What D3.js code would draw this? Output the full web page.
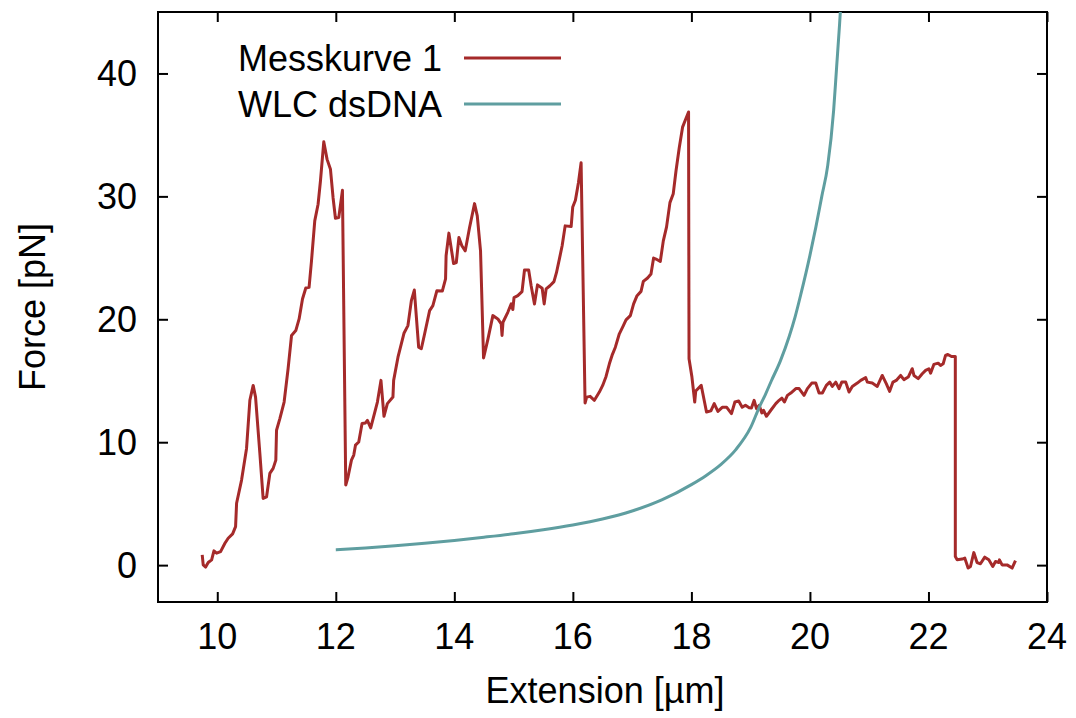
<!DOCTYPE html>
<html>
<head>
<meta charset="utf-8">
<script src="https://cdn.jsdelivr.net/npm/d3@7"></script>
<style>
  html, body { margin: 0; padding: 0; background: #fff; }
  svg text { font-family: "Liberation Sans", Arial, Helvetica, sans-serif; fill: #000; }
</style>
</head>
<body>
<svg id="chart" width="1076" height="718"></svg>
<script>
// Measured force-extension trace (extension in µm, force in pN)
const messExt = [9.746,9.763,9.804,9.847,9.905,9.944,9.989,10.056,10.129,10.184,10.259,10.309,10.326,10.410,10.494,10.550,10.606,10.646,10.719,10.774,10.832,10.887,10.943,10.988,11.000,11.056,11.128,11.195,11.253,11.325,11.381,11.438,11.494,11.549,11.590,11.645,11.701,11.741,11.797,11.853,11.910,11.954,11.994,12.050,12.112,12.168,12.207,12.264,12.303,12.332,12.387,12.443,12.500,12.533,12.589,12.644,12.702,12.762,12.813,12.870,12.964,12.976,13.049,13.150,13.217,13.275,13.325,13.398,13.443,13.499,13.583,13.638,13.706,13.797,13.852,13.861,13.908,13.987,14.033,14.077,14.127,14.184,14.257,14.341,14.387,14.442,14.493,14.565,14.650,14.734,14.791,14.805,14.821,14.902,14.960,14.987,15.007,15.071,15.142,15.184,15.254,15.296,15.352,15.403,15.482,15.516,15.549,15.613,15.681,15.723,15.773,15.819,15.870,15.971,15.998,16.043,16.094,16.139,16.206,16.233,16.291,16.363,16.447,16.503,16.560,16.616,16.661,16.717,16.784,16.852,16.897,16.970,17.025,17.083,17.150,17.189,17.261,17.318,17.362,17.403,17.475,17.526,17.581,17.638,17.694,17.740,17.795,17.851,17.908,17.952,17.960,18.009,18.056,18.073,18.166,18.255,18.329,18.385,18.447,18.520,18.596,18.676,18.734,18.798,18.857,18.912,18.975,19.013,19.059,19.098,19.143,19.189,19.216,19.266,19.340,19.424,19.480,19.526,19.569,19.620,19.677,19.762,19.817,19.901,19.957,20.031,20.098,20.154,20.210,20.277,20.334,20.378,20.436,20.491,20.537,20.604,20.660,20.715,20.799,20.857,20.941,20.968,21.052,21.136,21.220,21.288,21.345,21.401,21.456,21.530,21.586,21.659,21.726,21.755,21.827,21.895,21.952,22.007,22.036,22.091,22.164,22.204,22.248,22.288,22.327,22.389,22.453,22.453,22.484,22.568,22.613,22.669,22.709,22.765,22.820,22.877,22.950,23.018,23.085,23.131,23.187,23.198,23.242,23.326,23.411,23.468];
const messForce = [0.84,0.02,-0.16,0.21,0.43,1.16,0.97,1.10,1.78,2.19,2.54,3.13,5.03,6.92,9.49,13.41,14.62,13.67,9.08,5.43,5.56,7.46,7.87,8.54,10.97,11.92,13.27,15.98,18.68,19.08,20.03,21.65,22.55,22.60,24.76,28.01,29.36,31.25,34.44,33.01,32.20,29.89,28.22,28.27,30.49,6.51,7.19,8.54,8.95,9.76,10.02,11.52,11.57,11.78,11.16,12.19,13.27,15.03,12.11,13.14,13.67,15.03,16.92,18.86,19.49,21.52,22.38,17.73,17.60,18.82,20.71,21.11,22.33,22.30,23.28,25.17,27.01,24.54,24.62,26.65,25.98,25.57,27.46,29.41,28.41,25.57,16.85,18.35,20.30,20.03,19.63,18.68,19.76,20.57,21.25,20.79,21.76,21.92,22.25,24.01,24.01,22.73,21.25,22.80,22.53,21.25,22.47,22.73,23.06,23.79,24.92,25.98,27.60,27.54,29.14,29.68,31.11,32.73,13.19,13.67,13.73,13.41,14.08,14.62,15.35,16.38,17.06,17.73,18.82,19.49,19.95,20.30,21.25,21.92,22.27,23.08,23.36,23.68,24.98,24.90,24.70,26.38,27.52,29.49,30.22,32.06,33.95,35.63,36.33,36.87,16.79,15.30,13.27,14.16,14.62,12.46,12.55,13.14,12.51,12.84,12.84,12.33,13.27,13.35,12.84,13.00,12.80,12.78,13.41,12.73,13.00,12.38,12.60,12.11,12.60,13.14,13.41,13.59,13.27,13.81,14.00,14.36,14.36,13.81,14.36,14.81,14.81,14.00,14.00,14.62,14.89,14.54,14.89,14.36,14.89,14.89,14.08,14.54,14.81,15.03,15.25,14.89,14.81,14.54,15.43,14.76,14.14,14.89,15.03,15.43,15.09,15.30,15.98,15.43,15.17,15.57,15.84,15.98,15.62,16.33,16.43,16.24,16.38,17.06,17.14,16.97,16.97,0.70,0.43,0.49,0.57,-0.24,-0.11,1.02,0.21,0.11,0.65,0.43,-0.11,0.29,0.21,0.43,0.02,0.02,-0.24,0.37];

// Worm-like-chain curve for dsDNA
const wlcExt = [12.0,12.5,13.0,13.5,14.0,14.5,15.0,15.5,16.0,16.5,17.0,17.5,18.0,18.25,18.5,18.75,19.0,19.15,19.25,19.35,19.5,19.65,19.75,19.85,20.0,20.1,20.2,20.3,20.4,20.45,20.5,20.55];
const wlcForce = [1.24,1.40,1.58,1.78,2.01,2.27,2.55,2.88,3.27,3.75,4.40,5.30,6.55,7.3,8.2,9.4,11.2,12.9,13.9,15.0,16.6,18.6,20.2,22.1,25.2,27.5,30.0,32.5,37.0,40.5,44.0,48.0];

const xTicks = [10, 12, 14, 16, 18, 20, 22, 24];
const yTicks = [0, 10, 20, 30, 40];
const seriesNames = ["Messkurve 1", "WLC dsDNA"];
const seriesColors = ["#a52a2a", "#5f9ea0"];

const svg = d3.select("#chart");
const plot = { left: 158, top: 12, right: 1047, bottom: 602 };

const x = d3.scaleLinear().domain([9, 24]).range([plot.left, plot.right]);
const y = d3.scaleLinear().domain([-3, 45]).range([plot.bottom, plot.top]);

svg.append("defs").append("clipPath").attr("id", "plotClip")
  .append("rect")
  .attr("x", plot.left).attr("y", plot.top)
  .attr("width", plot.right - plot.left).attr("height", plot.bottom - plot.top);

const fontSize = 36;
const tickLen = 10;

// Axes with inward ticks on all four sides
const axes = [
  { axis: d3.axisBottom(x).tickValues(xTicks), t: `translate(0,${plot.bottom})` },
  { axis: d3.axisTop(x).tickValues(xTicks), t: `translate(0,${plot.top})` },
  { axis: d3.axisLeft(y).tickValues(yTicks), t: `translate(${plot.left},0)` },
  { axis: d3.axisRight(y).tickValues(yTicks), t: `translate(${plot.right},0)` }
];
axes.forEach(a => {
  const g = svg.append("g").attr("transform", a.t)
    .call(a.axis.tickSizeInner(-tickLen).tickSizeOuter(0).tickPadding(0));
  g.select(".domain").remove();
  g.selectAll(".tick line").attr("stroke", "#000").attr("stroke-width", 2);
  g.selectAll(".tick text").remove();
});

// tick labels
svg.selectAll(".xlab").data(xTicks).enter().append("text")
  .attr("x", d => x(d)).attr("y", plot.bottom + 47)
  .attr("text-anchor", "middle").attr("font-size", fontSize).text(d => d);
svg.selectAll(".ylab").data(yTicks).enter().append("text")
  .attr("x", plot.left - 21).attr("y", d => y(d) + 13)
  .attr("text-anchor", "end").attr("font-size", fontSize).text(d => d);

// frame
svg.append("rect")
  .attr("x", plot.left).attr("y", plot.top)
  .attr("width", plot.right - plot.left).attr("height", plot.bottom - plot.top)
  .attr("fill", "none").attr("stroke", "#000").attr("stroke-width", 2);

// axis titles
svg.append("text").attr("x", 605).attr("y", 703)
  .attr("text-anchor", "middle").attr("font-size", fontSize).text("Extension [µm]");
svg.append("text")
  .attr("transform", `translate(45,${(plot.top + plot.bottom) / 2}) rotate(-90)`)
  .attr("text-anchor", "middle").attr("font-size", fontSize).text("Force [pN]");

const line = d3.line().x(d => x(d[0])).y(d => y(d[1]));
const clipped = svg.append("g").attr("clip-path", "url(#plotClip)");

clipped.append("path")
  .datum(messExt.map((e, i) => [e, messForce[i]]))
  .attr("d", line).attr("fill", "none")
  .attr("stroke", seriesColors[0]).attr("stroke-width", 3).attr("stroke-linejoin", "round");

clipped.append("path")
  .datum(wlcExt.map((e, i) => [e, wlcForce[i]]))
  .attr("d", line.curve(d3.curveMonotoneX)).attr("fill", "none")
  .attr("stroke", seriesColors[1]).attr("stroke-width", 3);

// legend
const legendRows = [58, 104];
seriesNames.forEach((name, i) => {
  svg.append("text").attr("x", 442).attr("y", legendRows[i] + 13)
    .attr("text-anchor", "end").attr("font-size", fontSize).text(name);
  svg.append("line")
    .attr("x1", 464).attr("x2", 561).attr("y1", legendRows[i]).attr("y2", legendRows[i])
    .attr("stroke", seriesColors[i]).attr("stroke-width", 3);
});
</script>
</body>
</html>
